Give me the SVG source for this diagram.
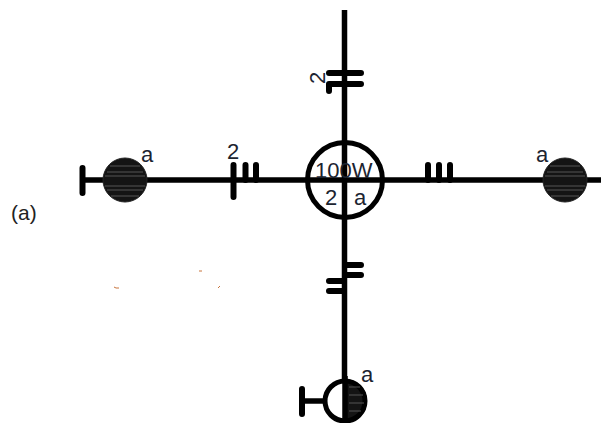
<svg xmlns="http://www.w3.org/2000/svg" width="601" height="423" viewBox="0 0 601 423">
<style>
.w{fill:none;stroke:#000;stroke-width:5.500}
.t{fill:none;stroke:#000;stroke-width:6;stroke-linecap:round}
.d{fill:#141414;stroke:#222;stroke-width:1}
.s{fill:none;stroke:#555;stroke-width:1}
text{font-family:"Liberation Sans",Arial,sans-serif;fill:#1c2430;font-size:22px}
</style>
<rect width="601" height="423" fill="#fff"/>
<g id="connectors">
<path class="w" d="M344.500 10V380M84 180H601"/>
<path class="w" d="M302 401H323"/>
<path class="t" d="M329 73H361M329 84H361M329 84V91"/>
<path class="t" d="M347 265H361M347 275H361M329 281H343M329 291H343"/>
<path class="t" d="M233.500 165V197M245.500 165V180M256 165V180"/>
<path class="t" d="M428 165V180M439 165V180M450 165V180"/>
<path class="t" d="M82.500 168V193M302 389V414"/>
</g>
<g id="node-center">
<circle cx="345" cy="180" r="37.500" fill="none" stroke="#000" stroke-width="5"/>
<text x="315" y="178">100W</text>
<text x="325" y="205">2</text>
<text x="354" y="205">a</text>
</g>
<g id="node-left">
<circle class="d" cx="125" cy="180" r="22"/>
<path class="s" d="M110 166H140M107 172H143M105 176H145M105 186H145M107 190H143M111 196H139"/>
<text x="141" y="162">a</text>
</g>
<g id="node-right">
<circle class="d" cx="565" cy="180" r="22"/>
<path class="s" d="M550 166H580M547 172H583M545 176H585M545 186H585M547 190H583M551 196H579"/>
<text x="536" y="162">a</text>
</g>
<g id="node-bottom">
<path d="M345 379A22 22 0 0 1 345 423Z" fill="#141414"/>
<circle cx="345" cy="401" r="20" fill="none" stroke="#000" stroke-width="5"/>
<path d="M345 376V423" stroke="#000" stroke-width="5.500"/>
<path class="s" d="M349 395H363M349 403H364M349 411H361M349 387H360"/>
<text x="361" y="382">a</text>
</g>
<g id="labels">
<text x="227" y="159">2</text>
<text transform="translate(325,84) rotate(-90)">2</text>
<text x="11" y="220" style="font-size:21px;fill:#222">(a)</text>
</g>
<g id="specks">
<path d="M114 287l2 1h3M199 271h3M218 288l2-2" fill="none" stroke="#c8743c" stroke-width="1"/>
</g>
</svg>
